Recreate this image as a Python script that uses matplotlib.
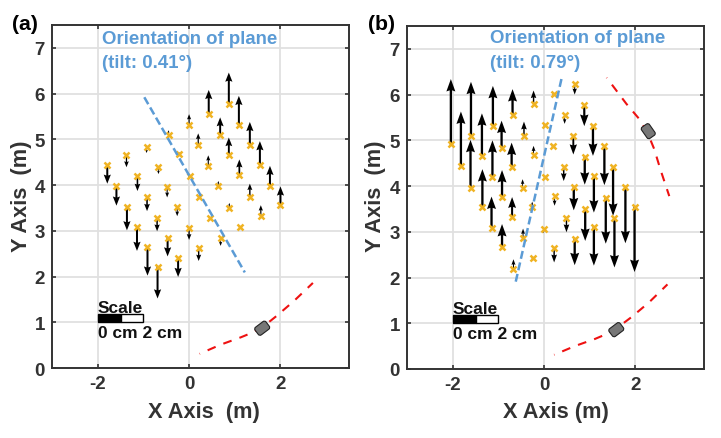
import matplotlib
matplotlib.use('Agg')
import matplotlib.pyplot as plt
from matplotlib.patches import FancyBboxPatch, Rectangle
from matplotlib.transforms import Affine2D

plt.rcParams['font.family'] = ['Liberation Sans', 'DejaVu Sans']
plt.rcParams['font.weight'] = 'bold'
plt.rcParams['axes.unicode_minus'] = False

# Panel (a): sensor positions and measured displacement along y.
a_x = [-1.79, -1.59, -1.37, -1.36, -1.13, -1.14, -0.93, -0.92, -0.91, -0.69,
       -0.70, -0.67, -0.48, -0.47, -0.26, -0.24, -0.45, -0.21, 0.00, 0.01,
       0.21, 0.22, 0.45, 0.69, 0.20, 0.42, 0.64, 0.88, 1.11, 0.00,
       0.43, 0.87, 1.09, 0.68, 0.87, 1.33, 1.10, 1.55, 1.77, 1.33,
       2.00, 1.57]
a_y = [4.43, 3.98, 4.65, 3.53, 4.19, 3.09, 4.84, 3.75, 2.64, 2.21,
       3.29, 4.39, 3.95, 2.84, 3.53, 2.41, 5.09, 4.67, 3.06, 4.19,
       2.62, 3.75, 3.29, 2.85, 4.88, 4.42, 3.97, 3.49, 3.08, 5.32,
       5.55, 5.77, 5.31, 5.09, 4.66, 4.87, 4.21, 4.44, 3.98, 3.75,
       3.56, 3.32]
a_d = [-0.40, -0.43, -0.26, -0.52, -0.32, -0.53, -0.14, -0.32, -0.62, -0.69,
       -0.30, -0.15, -0.22, -0.40, -0.21, -0.42, 0.11, 0.05, -0.26, 0.00,
       -0.28, 0.00, -0.07, -0.18, 0.25, 0.23, 0.12, 0.12, 0.00, 0.23,
       0.53, 0.69, 0.64, 0.39, 0.38, 0.51, 0.35, 0.52, 0.44, 0.28,
       0.41, 0.24]

# Panel (b)
b_x = [-2.04, -1.82, -1.60, -1.61, -1.36, -1.35, -1.12, -1.13, -1.15, -0.93,
       -0.92, -0.92, -0.69, -0.71, -0.70, -0.67, -0.23, -0.44, -0.23, -0.47,
       -0.26, -0.46, 0.21, 0.01, 0.19, 0.02, -0.01, -0.25, 0.67, 0.45,
       0.88, 0.64, 1.07, 0.43, 0.89, 1.09, 1.32, 1.51, 0.65, 0.23,
       0.49, 0.90, 1.35, 1.54, 1.78, 1.98, 1.09, 0.22, 0.67]
b_y = [4.91, 4.43, 5.10, 3.96, 4.66, 3.54, 5.31, 4.20, 3.09, 4.83,
       3.76, 2.66, 5.55, 4.42, 3.33, 2.18, 5.79, 5.10, 4.67, 3.96,
       3.54, 2.86, 6.01, 5.34, 4.88, 4.20, 3.07, 2.43, 6.24, 5.55,
       5.77, 5.09, 5.32, 4.42, 4.64, 4.21, 4.88, 4.42, 3.97, 3.78,
       3.30, 3.50, 3.74, 3.31, 3.97, 3.55, 3.11, 2.64, 2.85]
b_d = [1.43, 1.20, 1.18, 1.05, 0.93, 0.83, 0.88, 0.80, 0.68, 0.60,
       0.59, 0.51, 0.57, 0.53, 0.43, 0.22, 0.30, 0.31, 0.21, 0.19,
       0.12, 0.21, 0.00, 0.00, -0.05, 0.00, -0.10, 0.00, -0.24, -0.19,
       -0.46, -0.40, -0.66, -0.31, -0.61, -0.79, -0.86, -1.07, -0.50, -0.21,
       -0.31, -0.70, -1.00, -1.09, -1.22, -1.43, -0.85, -0.31, -0.58]

# Plane orientation lines
a_plane_x = [-0.98, 1.22]
a_plane_y = [5.92, 2.09]
b_plane_x = [0.38, -0.62]
b_plane_y = [6.34, 1.91]

# Radar trajectories and the radar position on them
a_path_x = [0.23, 0.69, 1.13, 1.40, 1.60, 1.78, 1.93, 2.30, 2.71]
a_path_y = [0.31, 0.51, 0.67, 0.78, 0.90, 1.03, 1.15, 1.47, 1.86]
b_path1_x = [0.22, 0.67, 1.12, 1.38, 1.58, 1.76, 1.92, 2.30, 2.70]
b_path1_y = [0.31, 0.50, 0.66, 0.77, 0.89, 1.02, 1.14, 1.46, 1.85]
b_path2_x = [1.37, 1.80, 2.08, 2.27, 2.41, 2.55, 2.74]
b_path2_y = [6.37, 5.80, 5.47, 5.15, 4.81, 4.35, 3.78]
a_car = (1.60, 0.87, 37)
b_cars = [(1.58, 0.86, 37), (2.28, 5.20, -55)]

x_ticks = [-2, 0, 2]
y_ticks = [0, 1, 2, 3, 4, 5, 6, 7]

W, H = 721, 439
fig = plt.figure(figsize=(W / 100, H / 100), dpi=100)


def make_axes(left, right, top, bottom):
    ax = fig.add_axes([left / W, 1 - bottom / H, (right - left) / W, (bottom - top) / H])
    ax.set_xlim(-3, 3.5)
    ax.set_ylim(0, 7.5)
    ax.set_xticks(x_ticks)
    ax.set_yticks(y_ticks)
    ax.grid(True, color='#e0e0e0', lw=1.3)
    ax.set_axisbelow(True)
    ax.tick_params(direction='in', length=3, width=1.2, color='#333333', top=True, right=True,
                   labelcolor='#333333', labelsize=13.5, pad=5)
    for s in ax.spines.values():
        s.set_linewidth(1.4)
        s.set_color('#333333')
    return ax


def draw_car(ax, cx, cy, ang):
    l, w = 0.30, 0.21
    tr = Affine2D().rotate_deg_around(cx, cy, ang) + ax.transData
    ax.add_patch(FancyBboxPatch((cx - l / 2, cy - w / 2), l, w,
                                boxstyle='round,pad=0,rounding_size=0.05',
                                fc='#777777', ec='#222222', lw=0.8, transform=tr, zorder=6))


def draw_scale(ax):
    ax.add_patch(Rectangle((-2.0, 1.0), 0.5, 0.18, fc='black', ec='black', lw=1, zorder=5))
    ax.add_patch(Rectangle((-1.5, 1.0), 0.5, 0.18, fc='white', ec='black', lw=1, zorder=5))
    ax.text(-2.0, 1.22, 'Scale', fontsize=12.5, color='#111111', ha='left', va='baseline', zorder=5)
    ax.text(-2.0, 0.68, '0 cm 2 cm', fontsize=12.5, color='#111111', ha='left', va='baseline', zorder=5)


def draw_arrows(ax, x, y, d, w, hw, hl, ms):
    ax.quiver(x, y, [0] * len(x), d, angles='xy', scale_units='xy', scale=1, units='dots',
              width=w, headwidth=hw, headlength=hl, headaxislength=hl - 0.5, minshaft=ms,
              color='black', zorder=3)
    ax.plot(x, y, 'x', color='#f0b323', ms=5, mew=1.8, zorder=4)


# (a)
ax1 = make_axes(52, 349, 26, 369)
draw_arrows(ax1, a_x, a_y, a_d, 2.0, 3.6, 4.6, 2.0)
ax1.plot(a_plane_x, a_plane_y, color='#5b9bd5', lw=1.8, linestyle=(0, (3.2, 1.5)), zorder=5)
ax1.plot(a_path_x, a_path_y, color='#ee1111', lw=1.5, linestyle=(4, (4.2, 4)), zorder=2)
draw_car(ax1, *a_car)
draw_scale(ax1)

# (b)
ax2 = make_axes(407, 704, 27, 370)
draw_arrows(ax2, b_x, b_y, b_d, 2.3, 3.9, 5.4, 1.8)
ax2.plot(b_plane_x, b_plane_y, color='#5b9bd5', lw=1.8, linestyle=(0, (3.2, 1.5)), zorder=5)
ax2.plot(b_path1_x, b_path1_y, color='#ee1111', lw=1.5, linestyle=(4, (4.2, 4)), zorder=2)
ax2.plot(b_path2_x, b_path2_y, color='#ee1111', lw=1.5, linestyle=(4, (4.2, 4)), zorder=2)
for c in b_cars:
    draw_car(ax2, *c)
draw_scale(ax2)

# Text placed in figure pixels
def fig_text(px, py, s, **kw):
    fig.text(px / W, 1 - py / H, s, **kw)


fig_text(12, 24, '(a)', fontsize=15.3, color='black', ha='left', va='center')
fig_text(368, 25, '(b)', fontsize=15.3, color='black', ha='left', va='center')
fig_text(102, 39.5, 'Orientation of plane', fontsize=13.4, color='#5b9bd5', ha='left', va='center')
fig_text(102, 64, '(tilt: 0.41°)', fontsize=13.4, color='#5b9bd5', ha='left', va='center')
fig_text(490, 38.5, 'Orientation of plane', fontsize=13.4, color='#5b9bd5', ha='left', va='center')
fig_text(490, 63, '(tilt: 0.79°)', fontsize=13.4, color='#5b9bd5', ha='left', va='center')
fig_text(204, 413, 'X Axis  (m)', fontsize=15.7, color='#333333', ha='center', va='center')
fig_text(556, 413, 'X Axis (m)', fontsize=15.7, color='#333333', ha='center', va='center')
fig_text(22, 196, 'Y Axis  (m)', fontsize=15.7, color='#333333', ha='center', va='center', rotation=90)
fig_text(375, 196, 'Y Axis  (m)', fontsize=15.7, color='#333333', ha='center', va='center', rotation=90)

fig.savefig('out.png', dpi=100)
